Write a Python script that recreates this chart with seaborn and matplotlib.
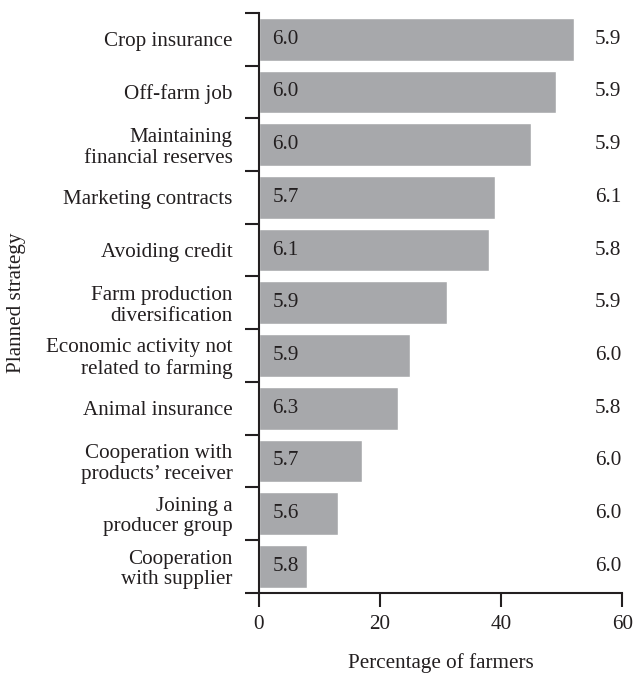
import matplotlib; matplotlib.use('Agg')
import pandas as pd
import numpy as np
import seaborn as sns
import matplotlib.pyplot as plt

strategies = [
    "Crop insurance",
    "Off-farm job",
    "Maintaining\nfinancial reserves",
    "Marketing contracts",
    "Avoiding credit",
    "Farm production\ndiversification",
    "Economic activity not\nrelated to farming",
    "Animal insurance",
    "Cooperation with\nproducts\u2019 receiver",
    "Joining a\nproducer group",
    "Cooperation\nwith supplier",
]
pct_farmers = [52, 49, 45, 39, 38, 31, 25, 23, 17, 13, 8]
score_inside = [6.0, 6.0, 6.0, 5.7, 6.1, 5.9, 5.9, 6.3, 5.7, 5.6, 5.8]
score_right = [5.9, 5.9, 5.9, 6.1, 5.8, 5.9, 6.0, 5.8, 6.0, 6.0, 6.0]

df = pd.DataFrame({"strategy": strategies, "pct": pct_farmers})

sns.set_style("white")
plt.rcParams['font.family'] = ['Liberation Serif', 'DejaVu Serif']
fs = 15.2
txt = "#231f20"

fig = plt.figure(figsize=(6.33, 6.75), dpi=100)
ax = fig.add_axes([0.409, 0.122, 0.574, 0.859])

sns.barplot(data=df, x="pct", y="strategy", orient="h", color="#a7a8ab",
            saturation=1, width=0.81, ax=ax)

for i in range(len(strategies)):
    ax.text(2.2, i, f"{score_inside[i]:.1f}", ha="left", va="center",
            fontsize=fs, color=txt)
    ax.text(55.5, i, f"{score_right[i]:.1f}", ha="left", va="center",
            fontsize=fs, color=txt)

ax.set_xlim(0, 60)
ax.set_ylim(len(strategies) - 0.5, -0.5)
ax.set_xticks([0, 20, 40, 60])
ax.tick_params(axis="x", direction="out", length=10, width=1.5, labelsize=fs,
               pad=6, bottom=True, colors=txt)
ax.set_yticks(np.arange(-0.5, len(strategies) + 0.5, 1), minor=True)
ax.tick_params(axis="y", which="minor", direction="out", length=10, width=1.5,
               left=True, colors=txt)
ax.tick_params(axis="y", which="major", length=0, pad=19, labelsize=fs,
               colors=txt)
for lab in ax.get_yticklabels():
    lab.set_linespacing(1.1)

for s in ["top", "right"]:
    ax.spines[s].set_visible(False)
for s in ["left", "bottom"]:
    ax.spines[s].set_linewidth(1.5)
    ax.spines[s].set_color(txt)

ax.set_xlabel("Percentage of farmers", fontsize=fs, labelpad=14, color=txt)
ax.set_ylabel("Planned strategy", fontsize=fs, color=txt)
ax.yaxis.set_label_coords(-0.64, 0.5)

fig.savefig("out.png", dpi=100)
